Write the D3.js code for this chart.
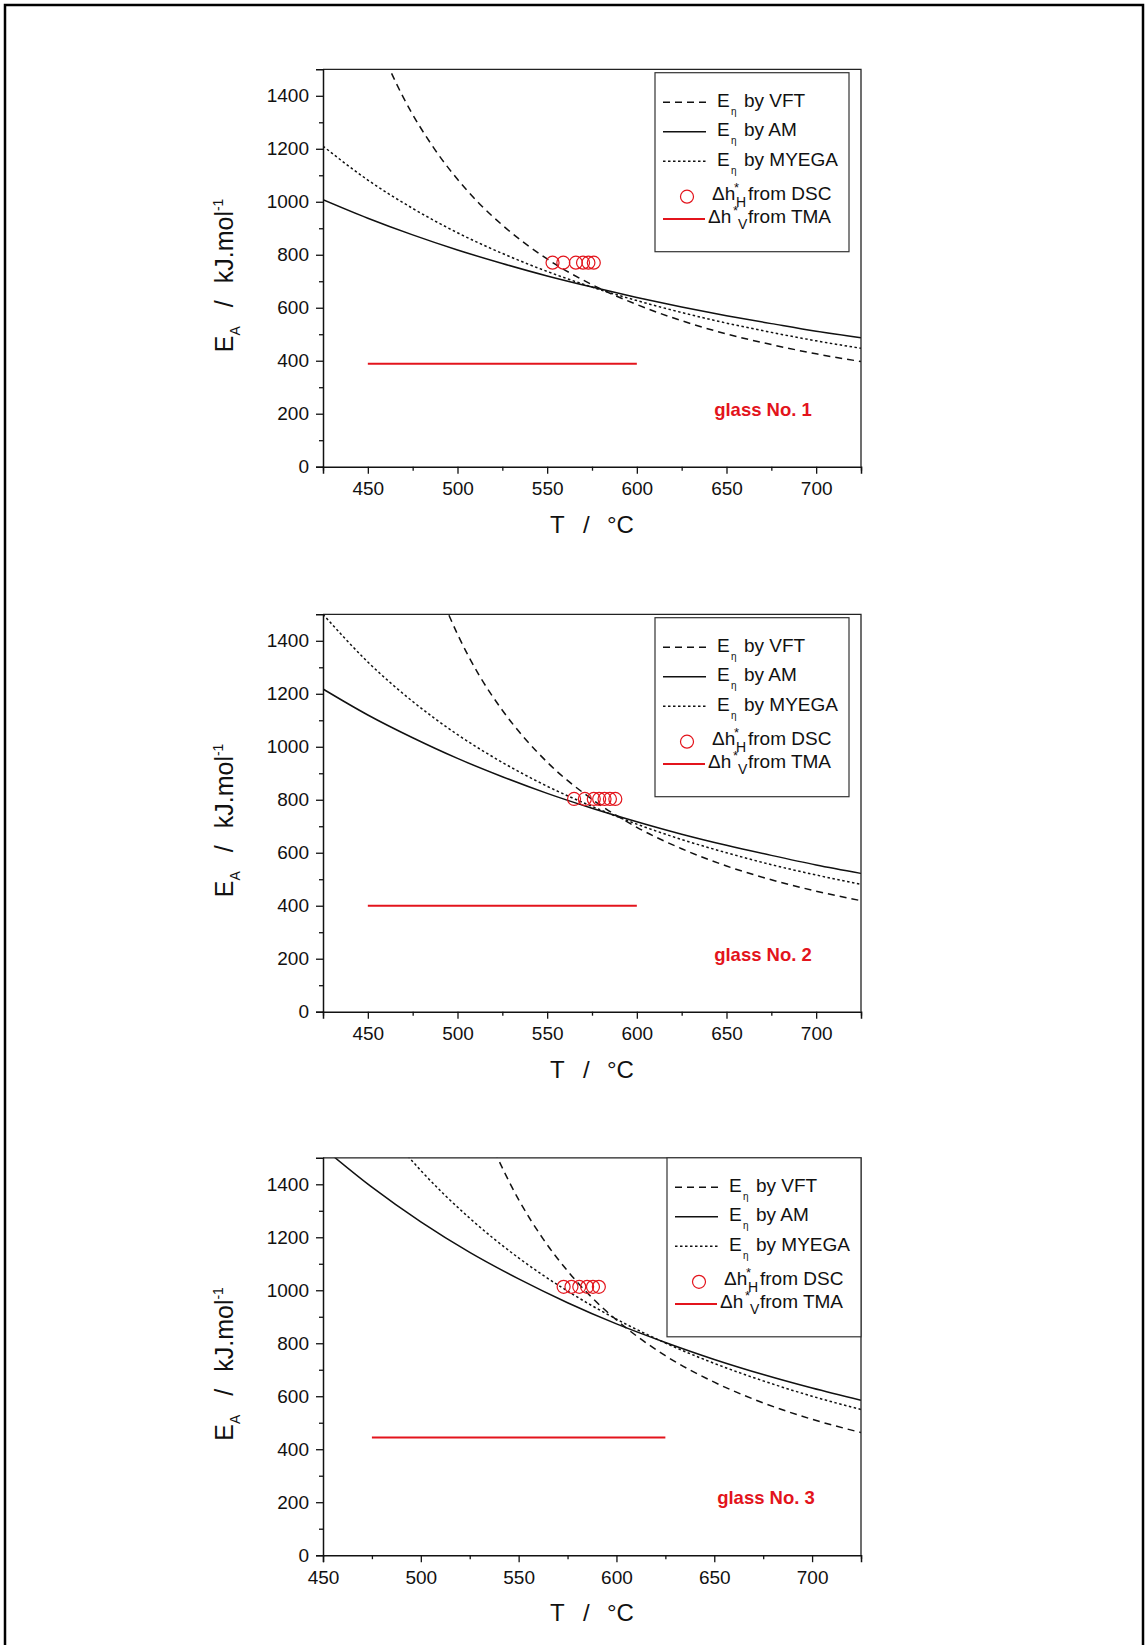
<!DOCTYPE html>
<html>
<head>
<meta charset="utf-8">
<script src="https://cdn.jsdelivr.net/npm/d3@7"></script>
<style>
  body { margin: 0; background: #fff; }
  svg text { font-family: "Liberation Sans", Arial, Helvetica, sans-serif; fill: #111; }
</style>
</head>
<body>
<svg id="fig" width="1147" height="1645"></svg>
<script>
// ---------- axis ticks ----------
const yMajorTicks = [0, 200, 400, 600, 800, 1000, 1200, 1400];
const yMinorTicks = [100, 300, 500, 700, 900, 1100, 1300];
const xMajorTicks = [450, 500, 550, 600, 650, 700];
const xMinorTicks12 = [425, 475, 525, 575, 625, 675, 725];
const xMinorTicks3 = [475, 525, 575, 625, 675, 725];
const gridT = [425, 450, 475, 500, 525, 550, 575, 600, 625, 650, 675, 700, 725];

// ---------- glass No. 1 ----------
const g1VftT = [455, 470, 487.5, 500, 512.5, 525, 550, 575, 600, 625, 650, 675, 700, 725];
const g1VftE = [1609, 1391, 1196, 1085, 991, 912, 784, 687, 612, 551, 501, 461, 426, 397];
const g1AmE  = [1008, 938, 875, 818, 767, 720, 678, 639, 603, 570, 540, 511, 487];
const g1MyegaE = [1210, 1082, 975, 883, 805, 737, 678, 627, 582, 542, 507, 475, 447];
const g1DscT = [553, 559, 566, 570, 573, 576];
const g1DscE = 770;
const g1TmaT = [450, 600];
const g1TmaE = 389;

// ---------- glass No. 2 ----------
const g2VftT = [490, 500, 512.5, 525, 550, 575, 600, 625, 650, 675, 700, 725];
const g2VftE = [1580, 1425, 1265, 1138, 942, 802, 696, 615, 550, 498, 455, 419];
const g2AmE  = [1218, 1120, 1034, 956, 887, 824, 768, 717, 670, 628, 590, 554, 522];
const g2MyegaE = [1500, 1320, 1171, 1046, 941, 851, 775, 708, 650, 600, 555, 516, 481];
const g2DscT = [565, 571, 576, 579, 582, 585, 588];
const g2DscE = 803;
const g2TmaT = [450, 600];
const g2TmaE = 400;

// ---------- glass No. 3 ----------
const g3VftT = [535, 550, 562.5, 575, 587.5, 600, 625, 650, 675, 700, 725];
const g3VftE = [1566, 1342, 1194, 1073, 972, 888, 753, 653, 575, 513, 463];
const g3AmT  = [450, 475, 500, 525, 550, 575, 600, 625, 650, 675, 700, 725];
const g3AmE  = [1538, 1389, 1258, 1143, 1043, 953, 873, 803, 739, 682, 631, 585];
const g3MyegaT = [490, 500, 525, 550, 575, 600, 625, 650, 675, 700, 725];
const g3MyegaE = [1535, 1452, 1272, 1122, 997, 891, 801, 724, 658, 600, 550];
const g3DscT = [573, 577, 581, 585, 588, 591];
const g3DscE = 1013;
const g3TmaT = [475, 625];
const g3TmaE = 444;

const RED = "#e3141c";
const zip = (T, E) => T.map((t, i) => ({ t, e: E[i] }));

const panels = [
  { top: 69.3, xDomain: [425, 725], xMinor: xMinorTicks12, label: "glass No. 1", labelX: 763,
    legendDx: 0, legendDy: 3.4,
    vft: zip(g1VftT, g1VftE), am: zip(gridT, g1AmE), myega: zip(gridT, g1MyegaE),
    dscT: g1DscT, dscE: g1DscE, tmaT: g1TmaT, tmaE: g1TmaE },
  { top: 614.3, xDomain: [425, 725], xMinor: xMinorTicks12, label: "glass No. 2", labelX: 763,
    legendDx: 0, legendDy: 3.4,
    vft: zip(g2VftT, g2VftE), am: zip(gridT, g2AmE), myega: zip(gridT, g2MyegaE),
    dscT: g2DscT, dscE: g2DscE, tmaT: g2TmaT, tmaE: g2TmaE },
  { top: 1157.8, xDomain: [450, 725], xMinor: xMinorTicks3, label: "glass No. 3", labelX: 766,
    legendDx: 12, legendDy: 0,
    vft: zip(g3VftT, g3VftE), am: zip(g3AmT, g3AmE), myega: zip(g3MyegaT, g3MyegaE),
    dscT: g3DscT, dscE: g3DscE, tmaT: g3TmaT, tmaE: g3TmaE }
];

const svg = d3.select("#fig");

// outer frame
svg.append("rect")
  .attr("x", 5).attr("y", 5).attr("width", 1138).attr("height", 1720)
  .attr("fill", "none").attr("stroke", "#000").attr("stroke-width", 2.5);

const PL = 323, PR = 861, PH = 397.4;

panels.forEach((p, i) => {
  const x = d3.scaleLinear().domain(p.xDomain).range([PL, PR]);
  const y = d3.scaleLinear().domain([0, 1500]).range([p.top + PH, p.top]);
  const g = svg.append("g");

  const clipId = "clip" + i;
  svg.append("clipPath").attr("id", clipId)
    .append("rect").attr("x", PL).attr("y", p.top).attr("width", PR - PL).attr("height", PH);

  // model curves
  const line = d3.line().x(d => x(d.t)).y(d => y(d.e)).curve(d3.curveMonotoneX);
  const curves = g.append("g").attr("clip-path", `url(#${clipId})`);
  curves.append("path").datum(p.am).attr("d", line)
    .attr("fill", "none").attr("stroke", "#111").attr("stroke-width", 1.5);
  curves.append("path").datum(p.myega).attr("d", line)
    .attr("fill", "none").attr("stroke", "#111").attr("stroke-width", 1.5)
    .attr("stroke-dasharray", "2.5,2.5");
  curves.append("path").datum(p.vft).attr("d", line)
    .attr("fill", "none").attr("stroke", "#111").attr("stroke-width", 1.5)
    .attr("stroke-dasharray", "7,5");

  // TMA line
  g.append("line")
    .attr("x1", x(p.tmaT[0])).attr("x2", x(p.tmaT[1]))
    .attr("y1", y(p.tmaE)).attr("y2", y(p.tmaE))
    .attr("stroke", RED).attr("stroke-width", 2);

  // DSC points
  g.selectAll("circle.dsc").data(p.dscT).join("circle")
    .attr("class", "dsc")
    .attr("cx", d => x(d)).attr("cy", y(p.dscE)).attr("r", 6.5)
    .attr("fill", "none").attr("stroke", RED).attr("stroke-width", 1.2);

  // frame (top / right)
  g.append("path")
    .attr("d", `M${PL},${p.top}H${PR}V${p.top + PH}`)
    .attr("fill", "none").attr("stroke", "#222").attr("stroke-width", 1.3);

  // axes
  g.append("g").attr("transform", `translate(0,${p.top + PH})`)
    .call(d3.axisBottom(x).tickValues(xMajorTicks).tickSize(7).tickPadding(8).tickFormat(d3.format("d")));
  g.append("g").attr("transform", `translate(0,${p.top + PH})`)
    .call(d3.axisBottom(x).tickValues(p.xMinor).tickSize(4).tickFormat(""))
    .select(".domain").remove();
  g.append("g").attr("transform", `translate(${PL},0)`)
    .call(d3.axisLeft(y).tickValues(yMajorTicks).tickSize(7).tickPadding(7).tickFormat(d3.format("d")));
  g.append("g").attr("transform", `translate(${PL},0)`)
    .call(d3.axisLeft(y).tickValues(yMinorTicks).tickSize(4).tickFormat(""))
    .select(".domain").remove();

  g.selectAll(".domain").attr("stroke", "#111").attr("stroke-width", 1.5);
  g.selectAll(".tick line").attr("stroke", "#111").attr("stroke-width", 1.3);
  g.selectAll(".tick text").attr("font-size", 19).attr("fill", "#111")
    .attr("font-family", '"Liberation Sans", Arial, sans-serif');

  // x title: T / °C
  const xt = g.append("text").attr("y", p.top + PH + 66).attr("font-size", 24);
  xt.append("tspan").attr("x", PL + 227).text("T");
  xt.append("tspan").attr("x", PL + 260).text("/");
  xt.append("tspan").attr("x", PL + 284).text("°C");

  // y title: E_A / kJ.mol^-1
  const yt = g.append("g").attr("transform", `translate(233,0) rotate(-90)`)
    .append("text").attr("font-size", 25);
  yt.append("tspan").attr("x", -(p.top + 283)).text("E");
  yt.append("tspan").attr("font-size", 14).attr("dy", 7).text("A");
  yt.append("tspan").attr("x", -(p.top + 238)).attr("dy", -7).text("/");
  yt.append("tspan").attr("x", -(p.top + 214)).text("kJ.mol");
  yt.append("tspan").attr("font-size", 14).attr("dy", -10).text("-1");

  // glass label
  g.append("text").attr("x", p.labelX).attr("y", p.top + 346.5)
    .attr("text-anchor", "middle").attr("font-size", 18.5).attr("font-weight", "bold")
    .style("fill", RED).text(p.label);

  // legend
  const lx = 655 + p.legendDx, ly = p.top + p.legendDy;
  const lg = g.append("g");
  lg.append("rect").attr("x", lx).attr("y", ly).attr("width", 194).attr("height", 179)
    .attr("fill", "#fff").attr("stroke", "#333").attr("stroke-width", 1.2);

  const eRows = [
    { name: "by VFT", base: 34, dash: "7,5" },
    { name: "by AM", base: 63.5, dash: null },
    { name: "by MYEGA", base: 93, dash: "2.5,2.5" }
  ];
  eRows.forEach(r => {
    lg.append("line").attr("x1", lx + 8).attr("x2", lx + 51)
      .attr("y1", ly + r.base - 4.5).attr("y2", ly + r.base - 4.5)
      .attr("stroke", "#111").attr("stroke-width", 1.5)
      .attr("stroke-dasharray", r.dash);
    const t = lg.append("text").attr("y", ly + r.base).attr("font-size", 19);
    t.append("tspan").attr("x", lx + 62).text("E");
    t.append("tspan").attr("x", lx + 76).attr("dy", 8).attr("font-size", 10).text("η");
    t.append("tspan").attr("x", lx + 89).attr("dy", -8).text(r.name);
  });

  // DSC row
  lg.append("circle").attr("cx", lx + 32).attr("cy", ly + 124)
    .attr("r", 6.5).attr("fill", "none").attr("stroke", RED).attr("stroke-width", 1.2);
  const td = lg.append("text").attr("y", ly + 127.3).attr("font-size", 19);
  td.append("tspan").attr("x", lx + 57).text("Δh");
  td.append("tspan").attr("x", lx + 79).attr("dy", -8).attr("font-size", 13).text("*");
  td.append("tspan").attr("x", lx + 81).attr("dy", 15).attr("font-size", 14).text("H");
  td.append("tspan").attr("x", lx + 93).attr("dy", -7).text("from DSC");

  // TMA row
  lg.append("line").attr("x1", lx + 8).attr("x2", lx + 50)
    .attr("y1", ly + 146.3).attr("y2", ly + 146.3)
    .attr("stroke", RED).attr("stroke-width", 2);
  const tt = lg.append("text").attr("y", ly + 150.6).attr("font-size", 19);
  tt.append("tspan").attr("x", lx + 53).text("Δh");
  tt.append("tspan").attr("x", lx + 78).attr("dy", -8).attr("font-size", 13).text("*");
  tt.append("tspan").attr("x", lx + 83).attr("dy", 14).attr("font-size", 14).text("V");
  tt.append("tspan").attr("x", lx + 93).attr("dy", -6).text("from TMA");
});
</script>
</body>
</html>
